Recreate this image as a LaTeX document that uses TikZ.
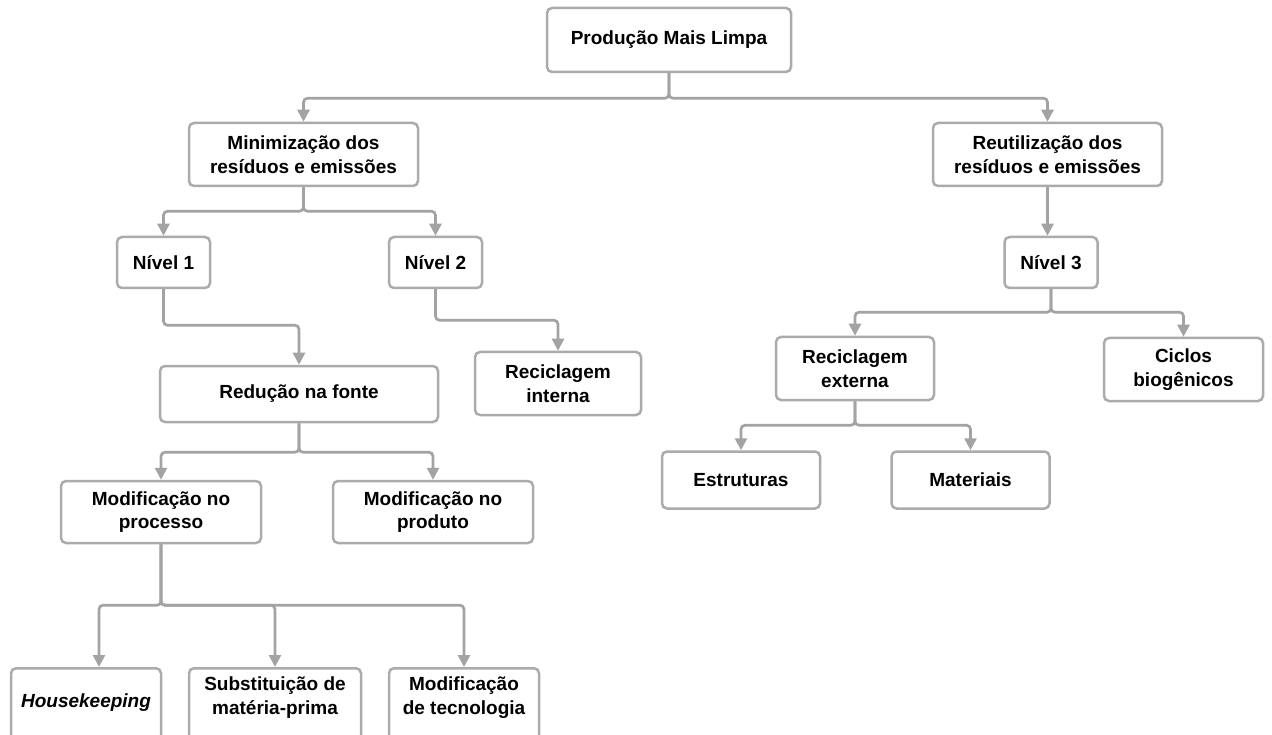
\documentclass[tikz,border=0pt]{standalone}
\usepackage{xcolor}
\usepackage{fontspec}
\setmainfont{Liberation Sans}
\usepackage{tikz}
\usetikzlibrary{arrows.meta,positioning}
\definecolor{linegray}{HTML}{A3A3A3}
\definecolor{boxgray}{HTML}{ABABAB}

\begin{document}
\begin{tikzpicture}[
				x = 1pt, y = -1pt,
				every node/.style = {font = \bfseries\fontsize{19}{23.5}\selectfont},
				box/.style = {draw = boxgray, line width = 2.5pt, rounded corners = 5pt, fill = white, align = center, inner sep = 2pt},
				cutbox/.style = {box, anchor = north, text depth = 60pt},
				link/.style = {draw = linegray, line width = 2.7pt, rounded corners = 4pt, -{Triangle[width=12pt,length=12pt]}}
			]

			\useasboundingbox (0,0) rectangle (1272,735);
			\clip (0,0) rectangle (1272,735);

			\node[box, minimum width=244, minimum height=64] (pml) at (669,40) {Produção Mais Limpa};
			\node[box, minimum width=229, minimum height=63] (mini) at (303.5,154.5) {Minimização dos\\resíduos e emissões};
			\node[box, minimum width=229, minimum height=63] (reut) at (1047.5,154.5) {Reutilização dos\\resíduos e emissões};
			\node[box, minimum width=93, minimum height=51] (niv1) at (163.5,262.5) {Nível 1};
			\node[box, minimum width=93, minimum height=51] (niv2) at (435.5,262.5) {Nível 2};
			\node[box, minimum width=93, minimum height=51] (niv3) at (1051,262.5) {Nível 3};
			\node[box, minimum width=278, minimum height=56] (fonte) at (299,394) {Redução na fonte};
			\node[box, minimum width=166, minimum height=63] (recint) at (558,383.5) {Reciclagem\\interna};
			\node[box, minimum width=158, minimum height=63] (recext) at (855,368.5) {Reciclagem\\externa};
			\node[box, minimum width=159, minimum height=63] (ciclos) at (1183.5,369.5) {Ciclos\\biogênicos};
			\node[box, minimum width=158, minimum height=57] (estr) at (741,480) {Estruturas};
			\node[box, minimum width=158, minimum height=57] (mater) at (970.5,480) {Materiais};
			\node[box, minimum width=200, minimum height=62] (processo) at (161,512) {Modificação no\\processo};
			\node[box, minimum width=200, minimum height=62] (produto) at (433,512) {Modificação no\\produto};
			\node[cutbox, minimum width=150, text height=37] (house) at (86,667) {\textit{Housekeeping}};
			\node[cutbox, minimum width=172, text height=44] (subst) at (275,667) {Substituição de\\matéria-prima};
			\node[cutbox, minimum width=150, text height=44] (tecno) at (464,667) {Modificação\\de tecnologia};

			\draw[link] (pml.south) -- ++(0,25) -| (mini.north);
			\draw[link] (pml.south) -- ++(0,25) -| (reut.north);
			\draw[link] (mini.south) -- ++(0,24) -| (niv1.north);
			\draw[link] (mini.south) -- ++(0,24) -| (niv2.north);
			\draw[link] (reut.south) -- (reut.south |- niv3.north);
			\draw[link] (niv1.south) -- ++(0,36) -| (fonte.north);
			\draw[link] (niv2.south) -- ++(0,31) -| (recint.north);
			\draw[link] (niv3.south) -- ++(0,23) -| (recext.north);
			\draw[link] (niv3.south) -- ++(0,23) -| (ciclos.north);
			\draw[link] (fonte.south) -- ++(0,29) -| (processo.north);
			\draw[link] (fonte.south) -- ++(0,29) -| (produto.north);
			\draw[link] (recext.south) -- ++(0,24) -| (estr.north);
			\draw[link] (recext.south) -- ++(0,24) -| (mater.north);
			\draw[link] (processo.south) -- ++(0,61) -| ([xshift=13pt]house.north);
			\draw[link] (processo.south) -- ++(0,61) -| (subst.north);
			\draw[link] (processo.south) -- ++(0,61) -| (tecno.north);

			\end{tikzpicture}
\end{document}
